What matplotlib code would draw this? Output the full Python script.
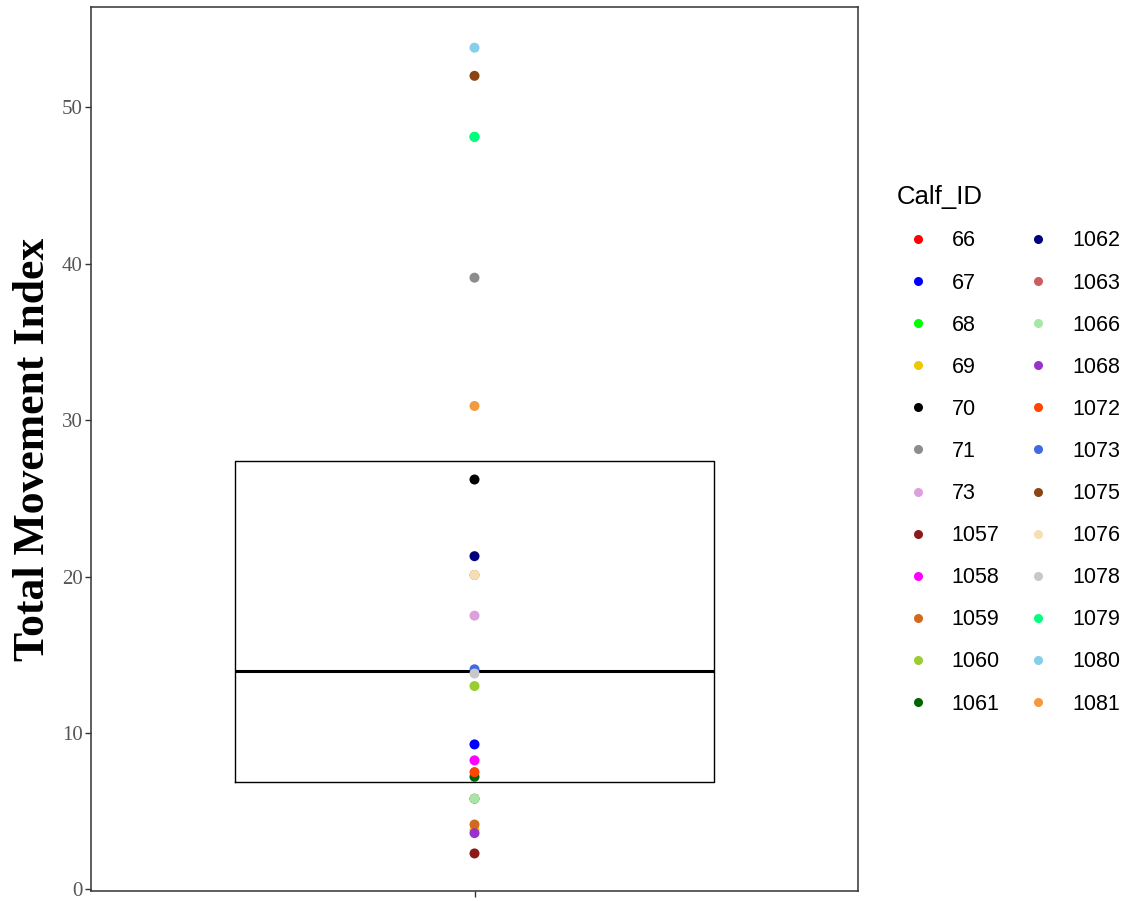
import matplotlib
matplotlib.use("Agg")
import matplotlib.pyplot as plt
from matplotlib.lines import Line2D
import numpy as np

calf_ids = ["66", "67", "68", "69", "70", "71", "73", "1057", "1058", "1059", "1060", "1061",
            "1062", "1063", "1066", "1068", "1072", "1073", "1075", "1076", "1078", "1079", "1080", "1081"]
movement = [5.8, 9.27, 48.1, 3.8, 26.2, 39.1, 17.5, 2.3, 8.25, 4.15, 13.0, 7.2,
            21.3, 20.1, 5.8, 3.6, 7.5, 14.07, 52.0, 20.1, 13.8, 48.1, 53.8, 30.9]
colors = ["#FF0000", "#0000FF", "#00FF00", "#EEC900", "#000000", "#8C8C8C", "#DDA0DD", "#8B1A1A",
          "#FF00FF", "#D2691E", "#9ACD32", "#006400", "#000080", "#CD5C5C", "#A8E6A8", "#9932CC",
          "#FF4500", "#4169E1", "#8B4513", "#F5DEB3", "#C8C8C8", "#00FF7F", "#87CEEB", "#F39A40"]
y_ticks = [0, 10, 20, 30, 40, 50]

W, H = 1133, 901
fig = plt.figure(figsize=(W / 100, H / 100), dpi=100)
ax = fig.add_axes([91 / W, (H - 891) / H, (858 - 91) / W, (891 - 7) / H])

ax.boxplot(movement, positions=[1], widths=0.75, whis=0, showfliers=False, showcaps=False,
           boxprops=dict(color="black", linewidth=1.0),
           whiskerprops=dict(linewidth=0),
           medianprops=dict(color="black", linewidth=2.2), zorder=2)

for v, c in zip(movement, colors):
    ax.scatter([1], [v], s=52, color=c, edgecolors="none", zorder=3)

ax.set_xlim(0.4, 1.6)
ax.set_ylim(-0.1, 56.4)
ax.set_xticks([1])
ax.set_xticklabels([""])
ax.set_yticks(y_ticks)
ax.set_yticklabels([str(t) for t in y_ticks], family="Liberation Serif", fontsize=15, color="#555555")
ax.tick_params(axis="both", length=4, width=1.0, color="#333333", pad=2)
for sp in ax.spines.values():
    sp.set_color("#333333")
    sp.set_linewidth(1.1)

ax.set_ylabel("Total Movement Index", family="Liberation Serif", fontweight="bold", fontsize=31.5, labelpad=6)

handles = [Line2D([], [], marker="o", linestyle="none", markersize=6.5, markerfacecolor=c,
                  markeredgecolor="none") for c in colors]
leg = fig.legend(handles, calf_ids, ncol=2, loc="upper left", bbox_to_anchor=(877.5 / W, 1 - 166 / H),
                 frameon=False, prop=dict(family="Liberation Sans", size=15.5),
                 title="Calf_ID", title_fontproperties=dict(family="Liberation Sans", size=18.5),
                 labelspacing=0.98, columnspacing=0.8, handletextpad=0.6, handlelength=1.95)
leg._legend_box.align = "left"

fig.savefig("out.png", dpi=100)
